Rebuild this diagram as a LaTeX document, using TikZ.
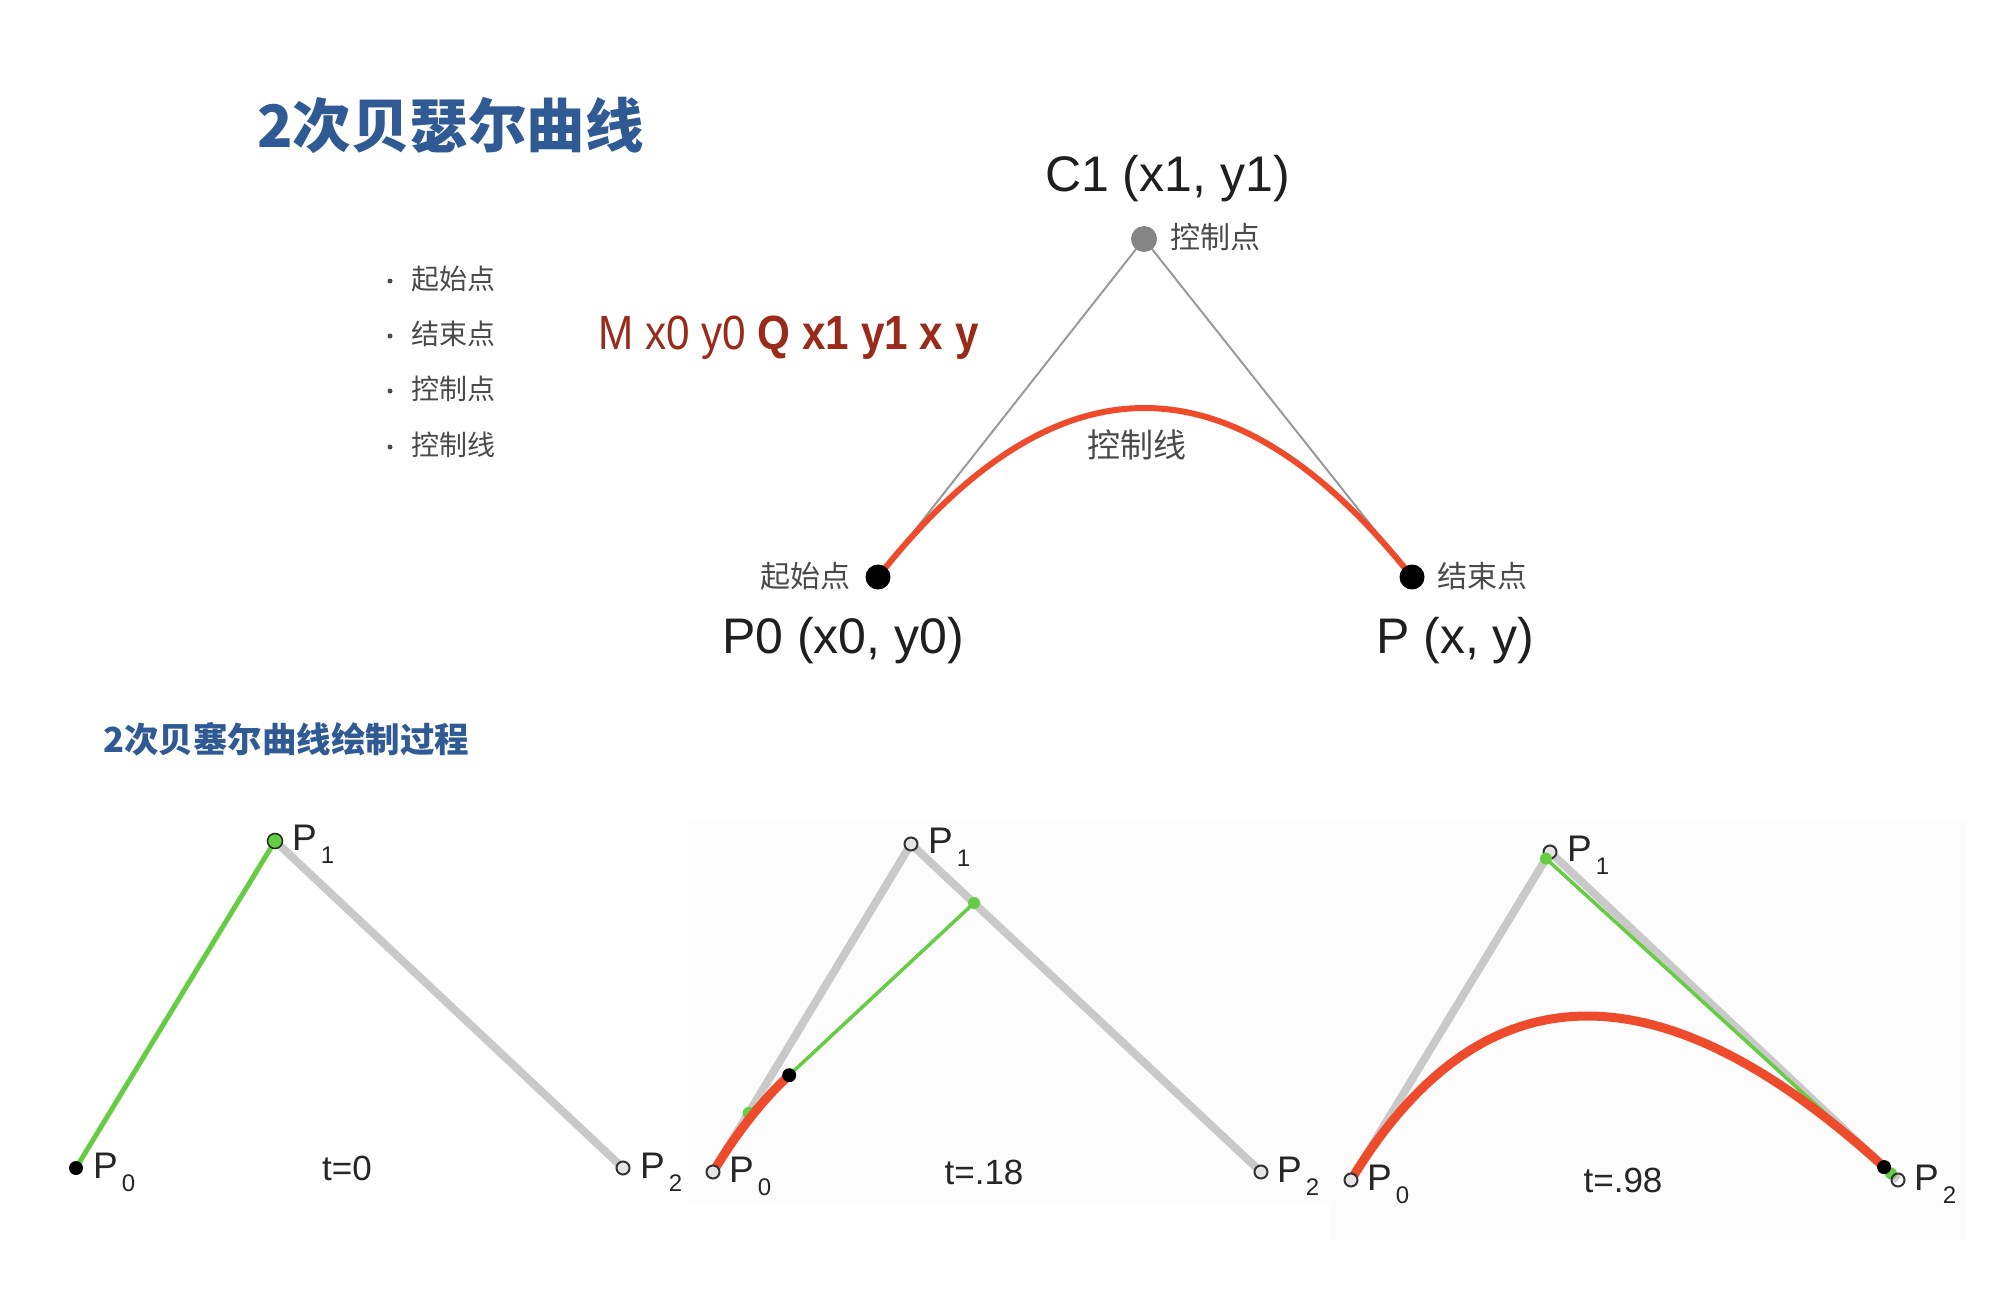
\documentclass[tikz,border=0pt]{standalone}
\usepackage{fontspec}
\usepackage{graphicx}
\usetikzlibrary{calc}
\setmainfont{Liberation Sans}
\newfontfamily\cjk{Noto Sans CJK SC}
\definecolor{titleblue}{HTML}{2F5A94}
\definecolor{codered}{HTML}{9A2A1A}
\definecolor{txtgray}{HTML}{4A4A4A}
\definecolor{curvered}{HTML}{EE4A2C}
\definecolor{segray}{HTML}{C9C9C9}
\definecolor{ctrlgray}{HTML}{9A9A9A}
\definecolor{dotgray}{HTML}{858585}
\definecolor{lgreen}{HTML}{66CC44}
\definecolor{panelbg}{HTML}{FCFCFC}
\newcommand\psub[1]{\hspace{4pt}\raisebox{-13pt}{\fontsize{24}{24}\selectfont #1}}
% quadratic Bezier (a) -> (c) with control (b), as a cubic
\newcommand\quadbez[3]{(#1) .. controls ($(#1)!2/3!(#2)$) and ($(#3)!2/3!(#2)$) .. (#3)}
\tikzset{
  cjktxt/.style={font=\cjk\fontsize{30}{32}\selectfont, text=txtgray, inner sep=0},
  bullettxt/.style={font=\cjk\fontsize{28}{30}\selectfont, text=txtgray, inner sep=0, anchor=west},
  bulletdot/.style={circle, fill=txtgray, inner sep=0, minimum size=5pt},
  biglbl/.style={font=\fontsize{50}{52}\selectfont, text=black!88, inner sep=0, anchor=base west},
  bigdot/.style={circle, fill=black, inner sep=0, minimum size=25pt},
  graydot/.style={circle, fill=dotgray, inner sep=0, minimum size=26pt},
  ctrlline/.style={draw=ctrlgray, line width=2pt},
  topcurve/.style={draw=curvered, line width=6pt, line cap=round},
  grayseg/.style={draw=segray, line width=8pt},
  greenseg/.style={draw=lgreen, line width=3.5pt},
  redseg/.style={draw=curvered, line width=9pt, line cap=round},
  smallcirc/.style={circle, draw=black!80, line width=2pt, fill=white!90!black, inner sep=0, minimum size=13pt},
  greendot/.style={circle, fill=lgreen, inner sep=0, minimum size=12pt},
  blackdot/.style={circle, fill=black, inner sep=0, minimum size=14pt},
  plbl/.style={font=\fontsize{37}{38}\selectfont, text=black!85, inner sep=0, anchor=base west},
  tlbl/.style={font=\fontsize{35}{36}\selectfont, text=black!85, inner sep=0},
  panel/.style={fill=panelbg, draw=none}
}
\begin{document}
\begin{tikzpicture}[x=1pt,y=-1pt]
\useasboundingbox[fill=white] (0,0) rectangle (2015,1316);

% ---------- titles ----------
\node[anchor=west, inner sep=0, text=titleblue, font=\cjk\bfseries\fontsize{58.5}{60}\selectfont] (title) at (257,125) {2次贝瑟尔曲线};
\node[anchor=west, inner sep=0, text=titleblue, font=\cjk\bfseries\fontsize{34.5}{36}\selectfont] (subtitle) at (103,739) {2次贝塞尔曲线绘制过程};

% ---------- bullets ----------
\node[bulletdot] (bd1) at (390,281) {};
\node[bullettxt] (b1) at (411,279) {起始点};
\node[bulletdot] (bd2) at (390,336) {};
\node[bullettxt] (b2) at (411,334) {结束点};
\node[bulletdot] (bd3) at (390,391) {};
\node[bullettxt] (b3) at (411,389) {控制点};
\node[bulletdot] (bd4) at (390,447) {};
\node[bullettxt] (b4) at (411,445) {控制线};

% ---------- path command ----------
\node[anchor=base west, inner sep=0, text=codered, font=\fontsize{48}{50}\selectfont] (code) at (598,349)
  {\scalebox{0.88}[1]{M x0 y0 \textbf{Q x1 y1 x y}}};

% ---------- top diagram ----------
\coordinate (tP0) at (878,577);
\coordinate (tC1) at (1144,239);
\coordinate (tP) at (1412,577);
\draw[ctrlline] (tP0) -- (tC1) -- (tP);
\draw[topcurve] \quadbez{tP0}{tC1}{tP};
\node[bigdot] (tP0dot) at (tP0) {};
\node[bigdot] (tPdot) at (tP) {};
\node[graydot] (tC1dot) at (tC1) {};
\node[biglbl] (tC1lbl) at (1045,192) {C1 (x1, y1)};
\node[biglbl] (tP0lbl) at (722,653) {P0 (x0, y0)};
\node[biglbl] (tPlbl) at (1376,653) {P (x, y)};
\node[cjktxt, anchor=west] (tC1cn) at (1170,237) {控制点};
\node[cjktxt, anchor=east] (tP0cn) at (851,576) {起始点};
\node[cjktxt, anchor=west] (tPcn) at (1437,576) {结束点};
\node[cjktxt, font=\cjk\fontsize{33}{35}\selectfont] (tcurvecn) at (1137,445) {控制线};

% ---------- panel backgrounds ----------
\fill[panel] (688,820) rectangle (1330,1202);
\fill[panel] (1330,822) rectangle (1966,1240);

% ---------- panel 1 : t=0 ----------
\coordinate (aP0) at (76,1168);
\coordinate (aP1) at (275,841);
\coordinate (aP2) at (623,1168);
\draw[grayseg] (aP1) -- (aP2);
\draw[greenseg, line width=5pt] (aP0) -- (aP1);
\node[smallcirc] (aP2c) at (aP2) {};
\node[greendot, draw=black!85, line width=1.5pt, minimum size=15pt] (aP1c) at (aP1) {};
\node[blackdot] (aP0c) at (aP0) {};
\node[plbl] (aL0) at (93,1178) {P\psub{0}};
\node[plbl] (aL1) at (292,850) {P\psub{1}};
\node[plbl] (aL2) at (640,1178) {P\psub{2}};
\node[tlbl] (aT) at (347,1168) {t=0};

% ---------- panel 2 : t=.18 ----------
\coordinate (bP0) at (713,1172);
\coordinate (bP1) at (911,844);
\coordinate (bP2) at (1261,1172);
\coordinate (bQ0) at (748.6,1113);
\coordinate (bQ1) at (974,903);
\coordinate (bB) at (789.2,1075.2);
\draw[grayseg] (bP0) -- (bP1) -- (bP2);
\node[greendot] (bQ0d) at (bQ0) {};
\node[greendot] (bQ1d) at (bQ1) {};
\draw[greenseg] (bQ0d.center) -- (bQ1d.center);
\draw[redseg] \quadbez{bP0}{bQ0}{bB};
\node[blackdot] (bBd) at (bB) {};
\node[smallcirc] (bP0c) at (bP0) {};
\node[smallcirc] (bP1c) at (bP1) {};
\node[smallcirc] (bP2c) at (bP2) {};
\node[plbl] (bL0) at (729,1182) {P\psub{0}};
\node[plbl] (bL1) at (928,853) {P\psub{1}};
\node[plbl] (bL2) at (1277,1182) {P\psub{2}};
\node[tlbl] (bT) at (984,1172) {t=.18};

% ---------- panel 3 : t=.98 ----------
\coordinate (cP0) at (1351,1180);
\coordinate (cP1) at (1550,852);
\coordinate (cP2) at (1898,1180);
\coordinate (cQ0) at (1546,858.6);
\coordinate (cQ1) at (1891,1173.4);
\coordinate (cB) at (1884.1,1167.1);
\draw[grayseg] (cP0) -- (cP1) -- (cP2);
\node[smallcirc] (cP1c) at (cP1) {};
\node[greendot] (cQ0d) at (cQ0) {};
\node[greendot] (cQ1d) at (cQ1) {};
\draw[greenseg] (cQ0d.center) -- (cQ1d.center);
\draw[redseg] \quadbez{cP0}{cQ0}{cB};
\node[blackdot] (cBd) at (cB) {};
\node[smallcirc] (cP0c) at (cP0) {};
\node[smallcirc, fill=none] (cP2c) at (cP2) {};
\node[plbl] (cL0) at (1367,1190) {P\psub{0}};
\node[plbl] (cL1) at (1567,861) {P\psub{1}};
\node[plbl] (cL2) at (1914,1190) {P\psub{2}};
\node[tlbl] (cT) at (1623,1180) {t=.98};
\end{tikzpicture}
\end{document}
